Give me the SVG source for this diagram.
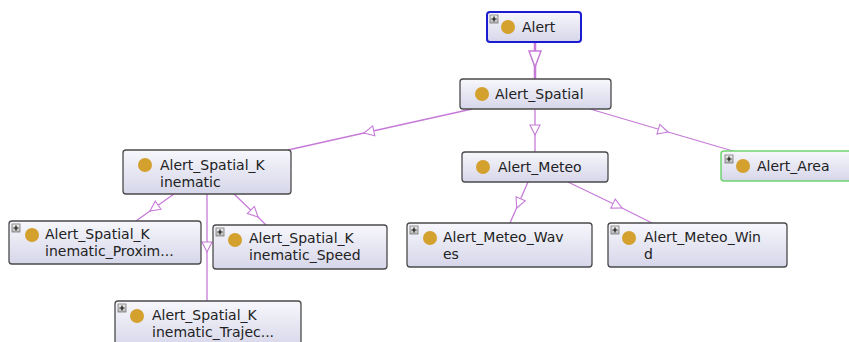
<svg xmlns="http://www.w3.org/2000/svg" width="849" height="342" viewBox="0 0 849 342">
<defs>
<linearGradient id="g" x1="0" y1="0" x2="0" y2="1">
<stop offset="0" stop-color="#f7f7fc"/>
<stop offset="1" stop-color="#d6d6ea"/>
</linearGradient>
<linearGradient id="pg" x1="0" y1="0" x2="0" y2="1">
<stop offset="0" stop-color="#f0f0f0"/>
<stop offset="1" stop-color="#b8b8b8"/>
</linearGradient>
<marker id="tri" viewBox="0 0 12 12" markerWidth="12" markerHeight="12" refX="11" refY="6" orient="auto" markerUnits="userSpaceOnUse">
<path d="M1,1 L11,6 L1,11 Z" fill="#ffffff" stroke="#c67bd8" stroke-width="1.1"/>
</marker>
<marker id="triBig" viewBox="0 0 18 14" markerWidth="18" markerHeight="14" refX="17" refY="7" orient="auto" markerUnits="userSpaceOnUse">
<path d="M1,1 L17,7 L1,13 Z" fill="#ffffff" stroke="#c67bd8" stroke-width="1.5"/>
</marker>
<g id="plus">
<rect x="0" y="0" width="8" height="8" fill="url(#pg)" stroke="#777" stroke-width="0.8"/>
<path d="M4,1.5 V6.5 M1.5,4 H6.5" stroke="#111" stroke-width="1.2"/>
</g>
</defs>
<style>
.box{fill:url(#g);stroke:#4a4a4a;stroke-width:1.3}
.dot{fill:#d4a02e}
.t{font-family:"DejaVu Sans",sans-serif;font-size:14px;fill:#222}
.e{fill:none;stroke:#c67bd8;stroke-width:1.3;marker-mid:url(#tri)}
</style>
<rect width="849" height="342" fill="#ffffff"/>
<g id="connectors">
<polyline class="e" points="535,42 535,67 535,79" style="stroke-width:2.5;marker-mid:url(#triBig)"/>
<polyline class="e" points="535,109 535,135 535,152"/>
<polyline class="e" points="590,109 668,132 733,151"/>
<polyline class="e" points="472,109 364,133 288,150"/>
<polyline class="e" points="174,194 150,211 136,221"/>
<polyline class="e" points="234,194 258,217 266,225"/>
<polyline class="e" points="207,194 207,252 207,301"/>
<polyline class="e" points="528,182 516.6,208 510,223"/>
<polyline class="e" points="568,182 622,208 652,223"/>
</g>
<g id="Alert">
<rect x="487" y="12" width="94" height="30" rx="3" fill="url(#g)" stroke="#1b1bd0" stroke-width="2"/>
<use href="#plus" x="490" y="15"/>
<circle class="dot" cx="508" cy="27" r="7"/>
<text class="t" x="522" y="32">Alert</text>
</g>
<g id="Alert_Spatial">
<rect class="box" x="460" y="79" width="151" height="30" rx="3"/>
<circle class="dot" cx="482" cy="94" r="7"/>
<text class="t" x="495" y="99">Alert_Spatial</text>
</g>
<g id="Alert_Spatial_Kinematic">
<rect class="box" x="123" y="150" width="168" height="44" rx="3"/>
<circle class="dot" cx="145" cy="165" r="7"/>
<text class="t" x="160" y="170">Alert_Spatial_K</text>
<text class="t" x="160" y="187">inematic</text>
</g>
<g id="Alert_Meteo">
<rect class="box" x="462" y="152" width="146" height="30" rx="3"/>
<circle class="dot" cx="483" cy="167" r="7"/>
<text class="t" x="498" y="172">Alert_Meteo</text>
</g>
<g id="Alert_Area">
<rect x="721" y="151" width="132" height="30" rx="3" fill="url(#g)" stroke="#6fd46f" stroke-width="1.5"/>
<use href="#plus" x="725" y="155"/>
<circle class="dot" cx="743" cy="166" r="7"/>
<text class="t" x="757" y="171">Alert_Area</text>
</g>
<g id="Alert_Spatial_Kinematic_Proximity">
<rect class="box" x="9" y="221" width="192" height="43" rx="3"/>
<use href="#plus" x="12" y="224"/>
<circle class="dot" cx="32" cy="235" r="7"/>
<text class="t" x="45" y="239">Alert_Spatial_K</text>
<text class="t" x="45" y="256">inematic_Proxim...</text>
</g>
<g id="Alert_Spatial_Kinematic_Speed">
<rect class="box" x="213" y="225" width="174" height="44" rx="3"/>
<use href="#plus" x="216" y="228"/>
<circle class="dot" cx="235" cy="240" r="7"/>
<text class="t" x="249" y="243">Alert_Spatial_K</text>
<text class="t" x="249" y="260">inematic_Speed</text>
</g>
<g id="Alert_Spatial_Kinematic_Trajectory">
<rect class="box" x="115" y="301" width="186" height="48" rx="3"/>
<use href="#plus" x="118" y="304"/>
<circle class="dot" cx="137" cy="316" r="7"/>
<text class="t" x="152" y="320">Alert_Spatial_K</text>
<text class="t" x="152" y="337">inematic_Trajec...</text>
</g>
<g id="Alert_Meteo_Waves">
<rect class="box" x="407" y="223" width="185" height="44" rx="3"/>
<use href="#plus" x="410" y="226"/>
<circle class="dot" cx="430" cy="238" r="7"/>
<text class="t" x="443" y="242">Alert_Meteo_Wav</text>
<text class="t" x="443" y="259">es</text>
</g>
<g id="Alert_Meteo_Wind">
<rect class="box" x="608" y="223" width="179" height="44" rx="3"/>
<use href="#plus" x="611" y="226"/>
<circle class="dot" cx="629" cy="238" r="7"/>
<text class="t" x="644" y="242">Alert_Meteo_Win</text>
<text class="t" x="644" y="259">d</text>
</g>
</svg>
